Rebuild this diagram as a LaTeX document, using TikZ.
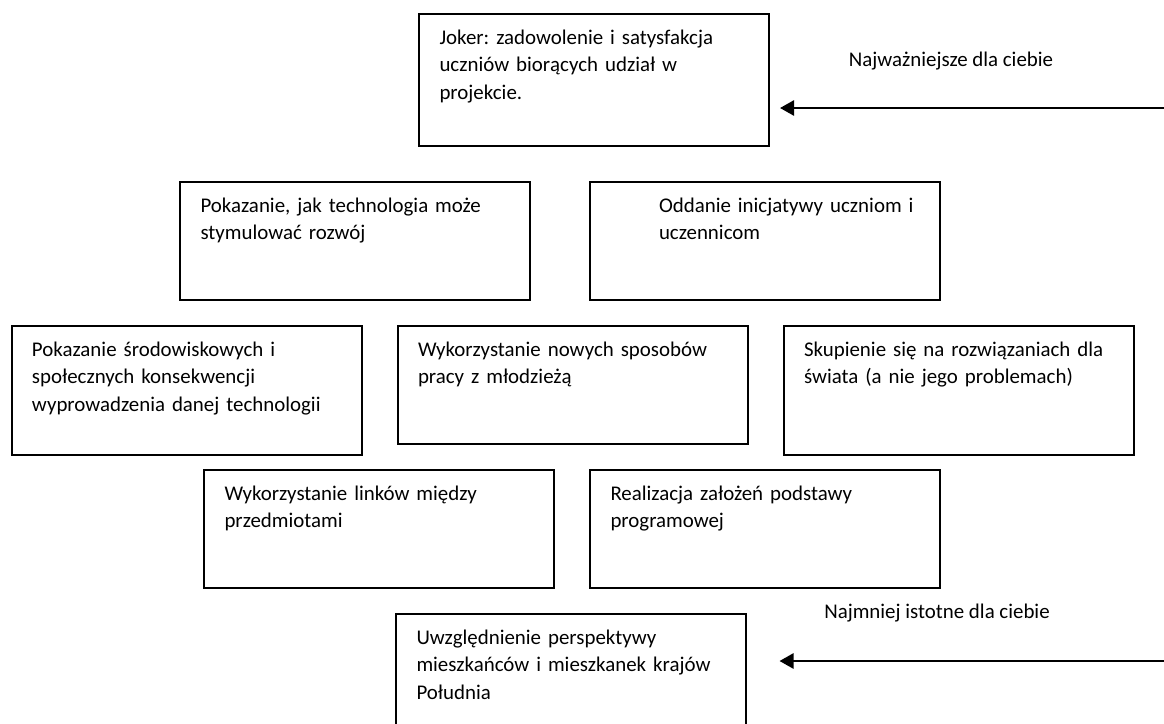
\documentclass[tikz,border=0pt]{standalone}
\usepackage{fontspec}
\setmainfont{Carlito}
\frenchspacing
\usepackage{tikz}
\usetikzlibrary{arrows.meta, positioning}

\begin{document}
\begin{tikzpicture}[x=0.5pt, y=-0.5pt, font=\fontsize{10.45pt}{13.8pt}\selectfont]

  % Define styles for the boxes and the arrows
  \tikzstyle{card} = [draw, line width=1pt, anchor=north west, align=left, text width=154.5pt, inner xsep=10.25pt, inner ysep=0pt, text height=15pt, text depth=44pt]
  \tikzstyle{tall} = [text depth=49.5pt]
  \tikzstyle{pointer} = [-{Triangle[length=7pt, width=7.5pt]}, line width=1.3pt, black]

  \useasboundingbox (0,0) rectangle (1164,724);
  \clip (0,0) rectangle (1164,724);

  \node (joker) [card, text depth=51pt] at (418,13) {Joker: zadowolenie i satysfakcja\\uczniów biorących udział w\\projekcie.};
  \node (pokjak) [card] at (179,181) {Pokazanie, jak technologia może\\stymulować rozwój};
  \node (oddanie) [card, right=29pt of pokjak.north east, anchor=north west] {\hspace*{24.25pt}Oddanie inicjatywy uczniom i\\\hspace*{24.25pt}uczennicom};
  \node (srodow) [card, tall] at (10.5,325) {Pokazanie środowiskowych i\\społecznych konsekwencji\\wyprowadzenia danej technologii};
  \node (nowych) [card, right=17pt of srodow.north east, anchor=north west] {Wykorzystanie nowych sposobów\\pracy z młodzieżą};
  \node (skupienie) [card, tall, right=17pt of nowych.north east, anchor=north west] {Skupienie się na rozwiązaniach dla\\świata (a nie jego problemach)};
  \node (linkow) [card] at (203,469) {Wykorzystanie linków między\\przedmiotami};
  \node (realiz) [card, right=17pt of linkow.north east, anchor=north west] {Realizacja założeń podstawy\\programowej};
  \node (uwzgl) [card, text depth=60pt] at (395,613) {Uwzględnienie perspektywy\\mieszkańców i mieszkanek krajów\\Południa};

  \node (toplbl) [anchor=base] at (951,66) {Najważniejsze dla ciebie};
  \node (botlbl) [anchor=base] at (937,618) {Najmniej istotne dla ciebie};

  \coordinate (topstart) at (1164,108);
  \coordinate (toptip) at (780,108);
  \coordinate (botstart) at (1164,661);
  \coordinate (bottip) at (779.5,661);

  \draw[pointer] (topstart) -- (toptip);
  \draw[pointer] (botstart) -- (bottip);

\end{tikzpicture}
\end{document}
